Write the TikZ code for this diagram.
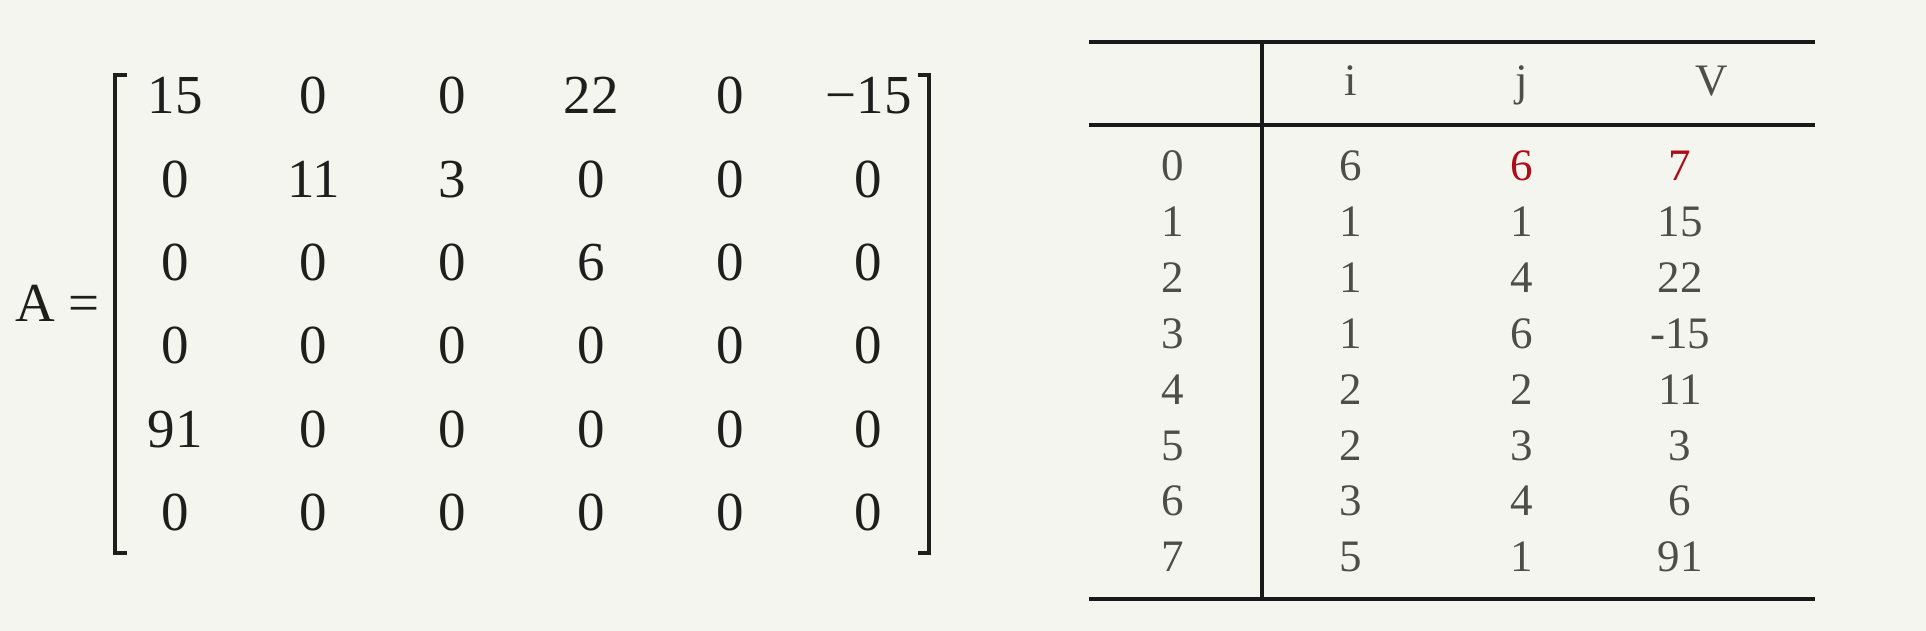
\documentclass[tikz,border=0pt]{standalone}
\usepackage{fontspec}
\setmainfont{Liberation Serif}
\definecolor{bgcol}{HTML}{F3F5EE}
\definecolor{matcol}{HTML}{1E1E1C}
\definecolor{tabcol}{HTML}{4E4E48}
\definecolor{redcol}{HTML}{B00C18}
\tikzset{
  mval/.style={anchor=base, inner sep=0pt, text=matcol, font={\fontsize{55pt}{60pt}\selectfont}},
  tval/.style={anchor=base, inner sep=0pt, text=tabcol, font={\fontsize{45pt}{50pt}\selectfont}},
  rule/.style={line width=3.3pt, draw=black!90}
}

\begin{document}
\begin{tikzpicture}[x=1pt, y=-1pt]
      \fill[bgcol] (0,0) rectangle (1926,631);
      \useasboundingbox (0,0) rectangle (1926,631);
      %matrix name
      \node[mval, anchor=base west] (name) at (15,321) {A =};
      %entries
      \foreach \row [count=\r] in {{15,0,0,22,0,−15},{0,11,3,0,0,0},{0,0,0,6,0,0},{0,0,0,0,0,0},{91,0,0,0,0,0},{0,0,0,0,0,0}}
        \foreach \val [count=\c] in \row
          \node[mval] (m\r\c) at ({36.3+138.7*\c},{30.7+83.3*\r}) {\val};
      %brackets
      \coordinate (lbt) at (115,75);
      \coordinate (lbb) at (115,553);
      \coordinate (rbt) at (929,75);
      \coordinate (rbb) at (929,553);
      \draw[line width=4pt, matcol] ([xshift=12pt]lbt) -- (lbt) -- (lbb) -- ([xshift=12pt]lbb);
      \draw[line width=4pt, matcol] ([xshift=-11pt]rbt) -- (rbt) -- (rbb) -- ([xshift=-11pt]rbb);

      %table rules
      \coordinate (tl) at (1089,42);
      \coordinate (tr) at (1815,42);
      \coordinate (hl) at (1089,125);
      \coordinate (hr) at (1815,125);
      \coordinate (bl) at (1089,599);
      \coordinate (br) at (1815,599);
      \coordinate (vt) at (1262,42);
      \coordinate (vb) at (1262,599);
      \draw[rule] (tl) -- (tr);
      \draw[rule] (hl) -- (hr);
      \draw[rule] (bl) -- (br);
      \draw[rule] (vt) -- (vb);
      %header
      \node[tval] (hi) at (1351,96) {i};
      \node[tval] (hj) at (1522,96) {j};
      \node[tval] (hv) at (1712,96) {V};
      %rows
      \foreach \k/\i/\j/\v in {1/1/1/15, 2/1/4/22, 3/1/6/-15, 4/2/2/11, 5/2/3/3, 6/3/4/6, 7/5/1/91} {
        \node[tval] (k\k) at (1173,{181+55.8*\k}) {\k};
        \node[tval] (i\k) at (1351,{181+55.8*\k}) {\i};
        \node[tval] (j\k) at (1522,{181+55.8*\k}) {\j};
        \node[tval] (v\k) at (1680,{181+55.8*\k}) {\v};
      }
      %first row
      \node[tval] (k0) at (1173,181) {0};
      \node[tval] (i0) at (1351,181) {6};
      \node[tval, text=redcol] (j0) at (1522,181) {6};
      \node[tval, text=redcol] (v0) at (1680,181) {7};
\end{tikzpicture}
\end{document}
